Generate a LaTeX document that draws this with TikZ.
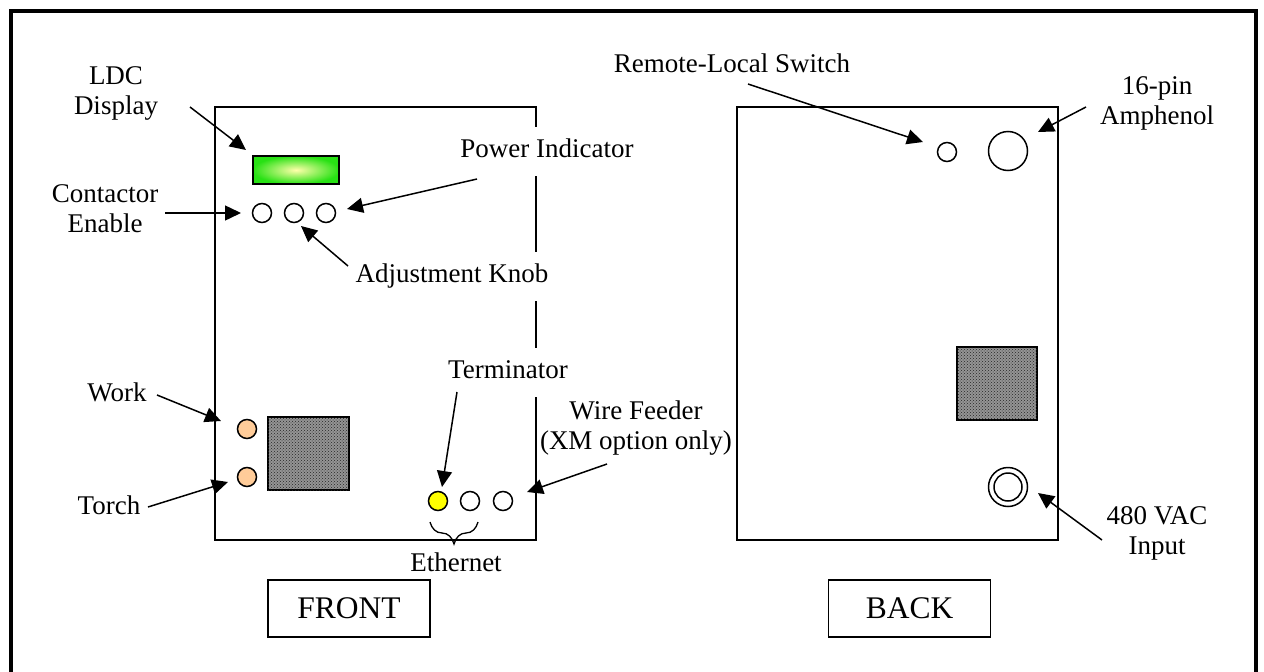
\documentclass[tikz,border=0pt]{standalone}
\usepackage{fontspec}
\setmainfont{Liberation Serif}
\usetikzlibrary{arrows.meta,patterns,decorations.pathreplacing}
\definecolor{peach}{RGB}{255,204,153}
\definecolor{lcdglow}{RGB}{255,255,170}
\definecolor{lcdgreen}{RGB}{40,225,20}
\definecolor{termyellow}{RGB}{255,255,0}
\begin{document}
\begin{tikzpicture}[x=1pt,y=-1pt,
  lbl/.style={font=\fontsize{27}{30}\selectfont, align=center, inner sep=0pt},
  cov/.style={lbl, fill=white, text height=19pt, text depth=6pt, inner xsep=3pt, inner ysep=12pt},
  arr/.style={line width=1.5pt, -{Triangle[length=16pt,width=15pt]}},
  panel/.style={draw, line width=1.6pt, inner sep=0pt},
  port/.style={circle, draw, line width=1.5pt, minimum size=19pt, inner sep=0pt, fill=white},
  grid/.style={draw, line width=1.8pt, inner sep=0pt, fill=black!42,
    postaction={pattern=crosshatch dots, pattern color=black!85}},
  tag/.style={draw, line width=1.5pt, minimum width=162pt, minimum height=57pt,
    font=\fontsize{31.5}{36}\selectfont}
]
\useasboundingbox (0,0) rectangle (1264,672);
\begin{scope}
  \clip (0,0) rectangle (1264,672);
  \draw[line width=4pt] (11,11) rectangle (1256,720);
\end{scope}

% panels
\node[panel, minimum width=321pt, minimum height=433pt] (front) at (375.5,323.5) {};
\node[panel, minimum width=321pt, minimum height=433pt] (back) at (897.5,323.5) {};

% front items
\node[draw, line width=1.5pt, minimum width=86pt, minimum height=28pt, inner sep=0pt,
  inner color=lcdglow, outer color=lcdgreen] (lcd) at (296,170) {};
\node[port] (k1) at (262,213) {};
\node[port] (k2) at (294,213) {};
\node[port] (k3) at (326,213) {};
\node[port, fill=peach] (work) at (247,429) {};
\node[port, fill=peach] (torch) at (247,477) {};
\node[grid, minimum width=81pt, minimum height=73pt] (fsq) at (308.5,453.5) {};
\node[port, fill=termyellow] (e1) at (438,501) {};
\node[port] (e2) at (470,501) {};
\node[port] (e3) at (503,501) {};
\draw[line width=1.3pt, decorate, decoration={brace, mirror, amplitude=22pt}]
  (430,522) -- (478,522);

% back items
\node[port] (rls) at (947,152) {};
\node[port, minimum size=39pt] (amp) at (1008,151) {};
\node[grid, minimum width=80pt, minimum height=73pt] (bsq) at (997,383.5) {};
\node[port, minimum size=39pt] (vac) at (1008,487) {};
\node[port, minimum size=28pt] (vacin) at (1008,487) {};

% labels
\node[lbl] (ldcL) at (116,93) {LDC\\Display};
\node[lbl] (conL) at (105,209) {Contactor\\Enable};
\node[cov] (pwrL) at (547,151) {Power Indicator};
\node[cov] (adjL) at (452,276) {Adjustment Knob};
\node[lbl] (workL) at (117,392) {Work};
\node[lbl] (torchL) at (109,505) {Torch};
\node[cov] (termL) at (508,372) {Terminator};
\node[lbl] (wireL) at (636,428) {Wire Feeder\\(XM option only)};
\node[lbl] (ethL) at (456,562) {Ethernet};
\node[lbl] (rlsL) at (732,63) {Remote-Local Switch};
\node[lbl] (ampL) at (1157,103) {16-pin\\Amphenol};
\node[lbl] (vacL) at (1157,533) {480 VAC\\Input};
\node[tag] (frontT) at (349,608.5) {FRONT};
\node[tag] (backT) at (909.5,608.5) {BACK};

% arrow end points
\coordinate (a1s) at (190,107);  \coordinate (a1e) at (246,150);
\coordinate (a2s) at (165,213);  \coordinate (a2e) at (241,213);
\coordinate (a3s) at (477,179);  \coordinate (a3e) at (347,209);
\coordinate (a4s) at (348,266);  \coordinate (a4e) at (301,226);
\coordinate (a5s) at (157,395);  \coordinate (a5e) at (221,421);
\coordinate (a6s) at (148,507);  \coordinate (a6e) at (228,482);
\coordinate (a7s) at (457,392);  \coordinate (a7e) at (442,487);
\coordinate (a8s) at (607,464);  \coordinate (a8e) at (527,492);
\coordinate (a9s) at (748,84);   \coordinate (a9e) at (923,142);
\coordinate (a10s) at (1086,107); \coordinate (a10e) at (1038,132);
\coordinate (a11s) at (1102,540); \coordinate (a11e) at (1038,493);

\draw[arr] (a1s) -- (a1e);
\draw[arr] (a2s) -- (a2e);
\draw[arr] (a3s) -- (a3e);
\draw[arr] (a4s) -- (a4e);
\draw[arr] (a5s) -- (a5e);
\draw[arr] (a6s) -- (a6e);
\draw[arr] (a7s) -- (a7e);
\draw[arr] (a8s) -- (a8e);
\draw[arr] (a9s) -- (a9e);
\draw[arr] (a10s) -- (a10e);
\draw[arr] (a11s) -- (a11e);
\end{tikzpicture}
\end{document}
